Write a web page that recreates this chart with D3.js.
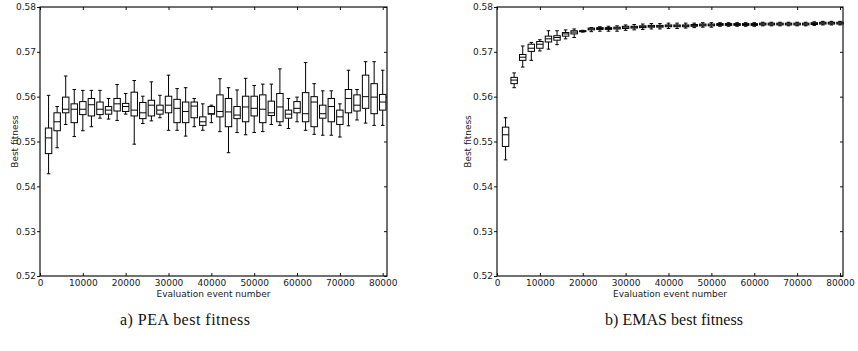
<!DOCTYPE html>
<html>
<head>
<meta charset="utf-8">
<script src="https://cdn.jsdelivr.net/npm/d3@7"></script>
<style>
  html, body { margin: 0; padding: 0; background: #fff; }
  svg { display: block; }
  .tick text { font-family: "DejaVu Sans", sans-serif; font-size: 9px; fill: #1a1a1a; }
</style>
</head>
<body>
<svg id="chart" width="858" height="351"></svg>
<script>
// ---------- data ----------
const evaluations = [2000, 4000, 6000, 8000, 10000, 12000, 14000, 16000, 18000, 20000,
  22000, 24000, 26000, 28000, 30000, 32000, 34000, 36000, 38000, 40000,
  42000, 44000, 46000, 48000, 50000, 52000, 54000, 56000, 58000, 60000,
  62000, 64000, 66000, 68000, 70000, 72000, 74000, 76000, 78000, 80000];

const xTicks = [0, 10000, 20000, 30000, 40000, 50000, 60000, 70000, 80000];
const yTicks = [0.52, 0.53, 0.54, 0.55, 0.56, 0.57, 0.58];

// PEA best fitness
const peaLow = [0.5428, 0.5486, 0.5538, 0.5511, 0.5524, 0.5533, 0.5552, 0.5550, 0.5547, 0.5561,
  0.5494, 0.5540, 0.5546, 0.5553, 0.5525, 0.5525, 0.5512, 0.5533, 0.5525, 0.5542,
  0.5522, 0.5475, 0.5520, 0.5515, 0.5520, 0.5522, 0.5538, 0.5536, 0.5529, 0.5544,
  0.5525, 0.5516, 0.5514, 0.5514, 0.5510, 0.5535, 0.5548, 0.5541, 0.5536, 0.5536];
const peaQ1 = [0.5473, 0.5524, 0.5564, 0.5542, 0.5560, 0.5557, 0.5560, 0.5561, 0.5568, 0.5567,
  0.5557, 0.5551, 0.5557, 0.5561, 0.5564, 0.5542, 0.5542, 0.5553, 0.5536, 0.5561,
  0.5555, 0.5533, 0.5551, 0.5544, 0.5557, 0.5542, 0.5558, 0.5544, 0.5552, 0.5564,
  0.5544, 0.5533, 0.5552, 0.5544, 0.5538, 0.5564, 0.5568, 0.5574, 0.5562, 0.5570];
const peaMed = [0.5508, 0.5544, 0.5572, 0.5572, 0.5572, 0.5582, 0.5572, 0.5570, 0.5584, 0.5578,
  0.5570, 0.5564, 0.5581, 0.5570, 0.5581, 0.5574, 0.5567, 0.5579, 0.5544, 0.5562,
  0.5567, 0.5566, 0.5559, 0.5577, 0.5574, 0.5572, 0.5564, 0.5577, 0.5561, 0.5574,
  0.5562, 0.5588, 0.5562, 0.5578, 0.5555, 0.5596, 0.5581, 0.5600, 0.5599, 0.5588];
const peaQ3 = [0.5530, 0.5564, 0.5599, 0.5584, 0.5589, 0.5596, 0.5588, 0.5578, 0.5596, 0.5585,
  0.5610, 0.5587, 0.5592, 0.5581, 0.5601, 0.5594, 0.5588, 0.5588, 0.5555, 0.5578,
  0.5604, 0.5596, 0.5578, 0.5601, 0.5601, 0.5604, 0.5590, 0.5607, 0.5570, 0.5589,
  0.5609, 0.5600, 0.5581, 0.5596, 0.5570, 0.5616, 0.5604, 0.5648, 0.5629, 0.5605];
const peaHigh = [0.5603, 0.5578, 0.5646, 0.5616, 0.5614, 0.5614, 0.5614, 0.5596, 0.5627, 0.5607,
  0.5636, 0.5601, 0.5633, 0.5603, 0.5648, 0.5618, 0.5620, 0.5596, 0.5584, 0.5581,
  0.5640, 0.5620, 0.5615, 0.5641, 0.5625, 0.5628, 0.5628, 0.5662, 0.5596, 0.5599,
  0.5676, 0.5629, 0.5613, 0.5613, 0.5584, 0.5659, 0.5616, 0.5678, 0.5678, 0.5659];

// EMAS best fitness
const emasLow = [0.5459, 0.5620, 0.5666, 0.5681, 0.5702, 0.5706, 0.5716, 0.5729, 0.5732, 0.5744,
  0.5745, 0.5746, 0.5746, 0.5746, 0.5748, 0.5749, 0.5750, 0.5751, 0.5751, 0.5752,
  0.5752, 0.5753, 0.5754, 0.5755, 0.5755, 0.5757, 0.5757, 0.5757, 0.5757, 0.5757,
  0.5758, 0.5758, 0.5758, 0.5758, 0.5758, 0.5758, 0.5759, 0.5760, 0.5760, 0.5760];
const emasQ1 = [0.5489, 0.5629, 0.5681, 0.5701, 0.5708, 0.5722, 0.5726, 0.5735, 0.5740, 0.5745,
  0.5749, 0.5750, 0.5750, 0.5751, 0.5752, 0.5753, 0.5754, 0.5755, 0.5755, 0.5756,
  0.5756, 0.5756, 0.5757, 0.5758, 0.5758, 0.5759, 0.5759, 0.5759, 0.5759, 0.5759,
  0.5760, 0.5760, 0.5760, 0.5760, 0.5760, 0.5760, 0.5761, 0.5762, 0.5762, 0.5762];
const emasMed = [0.5515, 0.5637, 0.5688, 0.5708, 0.5717, 0.5729, 0.5732, 0.5740, 0.5744, 0.5746,
  0.5751, 0.5752, 0.5752, 0.5753, 0.5755, 0.5755, 0.5756, 0.5757, 0.5757, 0.5758,
  0.5758, 0.5758, 0.5759, 0.5760, 0.5760, 0.5761, 0.5761, 0.5761, 0.5761, 0.5761,
  0.5762, 0.5762, 0.5762, 0.5762, 0.5762, 0.5762, 0.5763, 0.5764, 0.5764, 0.5764];
const emasQ3 = [0.5532, 0.5643, 0.5694, 0.5717, 0.5723, 0.5735, 0.5736, 0.5743, 0.5747, 0.5747,
  0.5753, 0.5754, 0.5754, 0.5755, 0.5757, 0.5757, 0.5758, 0.5759, 0.5759, 0.5760,
  0.5760, 0.5760, 0.5761, 0.5762, 0.5762, 0.5763, 0.5763, 0.5763, 0.5763, 0.5763,
  0.5764, 0.5764, 0.5764, 0.5764, 0.5764, 0.5764, 0.5765, 0.5766, 0.5766, 0.5766];
const emasHigh = [0.5553, 0.5653, 0.5713, 0.5721, 0.5727, 0.5747, 0.5747, 0.5749, 0.5751, 0.5748,
  0.5754, 0.5756, 0.5757, 0.5758, 0.5760, 0.5761, 0.5762, 0.5763, 0.5763, 0.5764,
  0.5764, 0.5764, 0.5764, 0.5765, 0.5765, 0.5765, 0.5765, 0.5765, 0.5765, 0.5765,
  0.5766, 0.5766, 0.5766, 0.5766, 0.5766, 0.5766, 0.5767, 0.5768, 0.5768, 0.5768];

const yLabel = "Best fitness";
const xLabel = "Evaluation event number";
const captions = ["a) PEA best fitness", "b) EMAS best fitness"];

// ---------- drawing ----------
const svg = d3.select("#chart");
const fontSans = '"DejaVu Sans", sans-serif';

function panel(cfg, low, q1, med, q3, high) {
  const x = d3.scaleLinear().domain([0, cfg.xMax]).range([cfg.left, cfg.right]);
  const y = d3.scaleLinear().domain([0.52, 0.58]).range([cfg.bottom, cfg.top]);
  const g = svg.append("g");

  // axes
  const ax = g.append("g").attr("transform", `translate(0,${cfg.bottom})`)
    .call(d3.axisBottom(x).tickValues(xTicks).tickFormat(d3.format("d")).tickSize(-3).tickPadding(3.5));
  const at = g.append("g").attr("transform", `translate(0,${cfg.top})`)
    .call(d3.axisTop(x).tickValues(xTicks).tickFormat("").tickSize(-3));
  const al = g.append("g").attr("transform", `translate(${cfg.left},0)`)
    .call(d3.axisLeft(y).tickValues(yTicks).tickFormat(d3.format(".2f")).tickSize(3).tickPadding(1));
  const ar = g.append("g").attr("transform", `translate(${cfg.right},0)`)
    .call(d3.axisRight(y).tickValues(yTicks).tickFormat("").tickSize(-3));
  [ax, at, al, ar].forEach(a => {
    a.select(".domain").remove();
    a.selectAll(".tick line").attr("stroke", "#111").attr("stroke-width", 1);
  });

  // frame
  g.append("rect")
    .attr("x", cfg.left).attr("y", cfg.top)
    .attr("width", cfg.right - cfg.left).attr("height", cfg.bottom - cfg.top)
    .attr("fill", "none").attr("stroke", "#111").attr("stroke-width", 1.2);

  // boxes
  const bw = x(1500) - x(0);
  const cw = bw * 0.55;
  const data = evaluations.map((e, i) => ({ e, lo: low[i], q1: q1[i], md: med[i], q3: q3[i], hi: high[i] }));
  const b = g.append("g").attr("stroke", "#000").attr("stroke-width", 1).attr("fill", "none");
  const items = b.selectAll("g.box").data(data).join("g").attr("class", "box");
  items.append("line").attr("x1", d => x(d.e)).attr("x2", d => x(d.e))
    .attr("y1", d => y(d.q3)).attr("y2", d => y(d.hi));
  items.append("line").attr("x1", d => x(d.e)).attr("x2", d => x(d.e))
    .attr("y1", d => y(d.q1)).attr("y2", d => y(d.lo));
  items.append("line").attr("x1", d => x(d.e) - cw / 2).attr("x2", d => x(d.e) + cw / 2)
    .attr("y1", d => y(d.hi)).attr("y2", d => y(d.hi));
  items.append("line").attr("x1", d => x(d.e) - cw / 2).attr("x2", d => x(d.e) + cw / 2)
    .attr("y1", d => y(d.lo)).attr("y2", d => y(d.lo));
  items.append("rect").attr("x", d => x(d.e) - bw / 2).attr("width", bw)
    .attr("y", d => y(d.q3)).attr("height", d => Math.max(0.5, y(d.q1) - y(d.q3)))
    .attr("fill", "#fff");
  items.append("line").attr("x1", d => x(d.e) - bw / 2).attr("x2", d => x(d.e) + bw / 2)
    .attr("y1", d => y(d.md)).attr("y2", d => y(d.md));

  // labels
  g.append("text").attr("x", (cfg.left + cfg.right) / 2).attr("y", 297.3)
    .attr("text-anchor", "middle").attr("font-family", fontSans).attr("font-size", 9)
    .attr("fill", "#1a1a1a").text(xLabel);
  g.append("text").attr("transform", `translate(${cfg.yLabelX},${(cfg.top + cfg.bottom) / 2}) rotate(-90)`)
    .attr("text-anchor", "middle").attr("font-family", fontSans).attr("font-size", 9)
    .attr("fill", "#1a1a1a").text(yLabel);
  g.append("text").attr("x", cfg.capX).attr("y", 325)
    .attr("text-anchor", "middle").attr("font-family", '"Liberation Serif", serif')
    .attr("font-size", 16).attr("textLength", cfg.capW).attr("lengthAdjust", "spacing")
    .attr("fill", "#111").text(cfg.caption);
}

panel({ left: 40, right: 387, top: 7, bottom: 276, xMax: 81000, yLabelX: 18.3, capX: 185, capW: 130, caption: captions[0] },
  peaLow, peaQ1, peaMed, peaQ3, peaHigh);
panel({ left: 497, right: 843, top: 7, bottom: 276, xMax: 80700, yLabelX: 470.7, capX: 674, capW: 138, caption: captions[1] },
  emasLow, emasQ1, emasMed, emasQ3, emasHigh);
</script>
</body>
</html>
